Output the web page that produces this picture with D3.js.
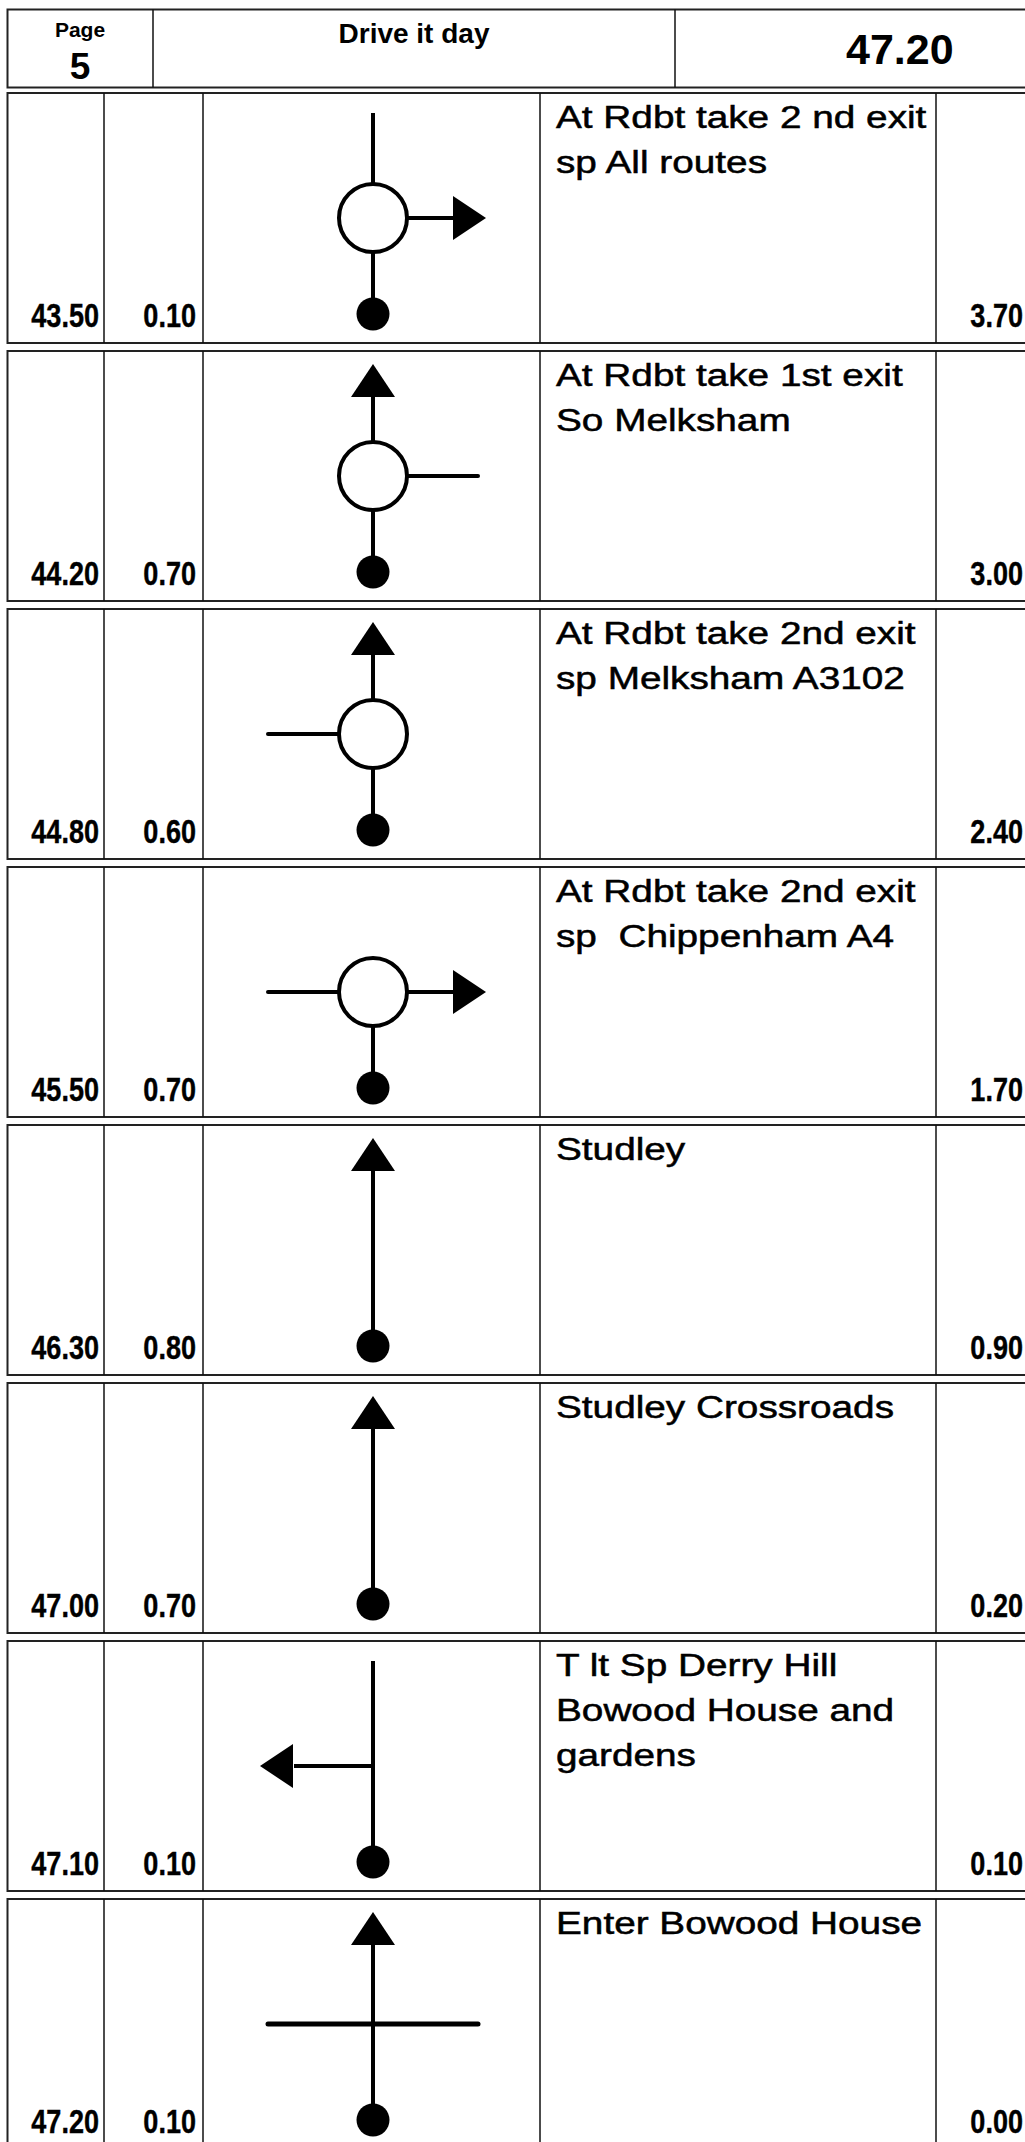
<!DOCTYPE html>
<html><head><meta charset="utf-8">
<script src="https://cdn.jsdelivr.net/npm/d3@7"></script>
<style>html,body{margin:0;padding:0;background:#fff;overflow:hidden}</style>
</head><body>
<svg id="c" width="1025" height="2142"></svg>
<script>
// ---- data ----
const pageNumber = "5";
const title = "Drive it day";
const totalDistance = "47.20";
const totals = ["43.50","44.20","44.80","45.50","46.30","47.00","47.10","47.20"];
const intervals = ["0.10","0.70","0.60","0.70","0.80","0.70","0.10","0.10"];
const remaining = ["3.70","3.00","2.40","1.70","0.90","0.20","0.10","0.00"];
const instructions = [
  ["At Rdbt take 2 nd exit","sp All routes"],
  ["At Rdbt take 1st exit","So Melksham"],
  ["At Rdbt take 2nd exit","sp Melksham A3102"],
  ["At Rdbt take 2nd exit","sp  Chippenham A4"],
  ["Studley"],
  ["Studley Crossroads"],
  ["T lt Sp Derry Hill","Bowood House and","gardens"],
  ["Enter Bowood House"]
];
const roundabout = [true,true,true,true,false,false,false,false];
const topEnd   = ["line","arrow","arrow","none","arrow","arrow","line","arrow"];
const leftEnd  = ["none","none","stub","stub","none","none","arrow","stub"];
const rightEnd = ["arrow","stub","none","arrow","none","none","none","stub"];

// ---- layout ----
const svg = d3.select("#c");
const rowTop = d3.scaleLinear().domain([0,1]).range([93,351]);
const rowH = 250;
const colX = [7.5, 104, 203, 540, 936, 1045];
const cx = 373;
const sw = 4;
const sans = "Liberation Sans, Arial, sans-serif";

// header
const hg = svg.append("g");
hg.append("rect").attr("x",7.5).attr("y",9.5).attr("width",1040).attr("height",78)
  .attr("fill","none").attr("stroke","#222").attr("stroke-width",2);
[153,675].forEach(x=>hg.append("line").attr("x1",x).attr("x2",x).attr("y1",9.5).attr("y2",87.5)
  .attr("stroke","#111").attr("stroke-width",1.5));
hg.append("text").attr("x",80).attr("y",37).attr("text-anchor","middle")
  .attr("font-family",sans).attr("font-weight","bold").attr("font-size",21).text("Page");
hg.append("text").attr("x",80).attr("y",79).attr("text-anchor","middle")
  .attr("font-family",sans).attr("font-weight","bold").attr("font-size",37).text(pageNumber);
hg.append("text").attr("x",414).attr("y",43).attr("text-anchor","middle")
  .attr("font-family",sans).attr("font-weight","bold").attr("font-size",28).text(title);
hg.append("text").attr("x",846).attr("y",64).attr("text-anchor","start")
  .attr("font-family",sans).attr("font-weight","bold").attr("font-size",43).text(totalDistance);

// rows
const rows = svg.selectAll("g.row").data(totals.map((t,i)=>i)).join("g")
  .attr("class","row").attr("transform",i=>`translate(0,${rowTop(i)})`);

rows.append("rect").attr("x",7.5).attr("y",0).attr("width",1040).attr("height",rowH)
  .attr("fill","#fff").attr("stroke","#222").attr("stroke-width",2);
colX.slice(1,5).forEach(x=>rows.append("line").attr("x1",x).attr("x2",x).attr("y1",0).attr("y2",rowH)
  .attr("stroke","#111").attr("stroke-width",1.5));

function numText(sel, x, fn){
  sel.append("text").attr("transform",`translate(${x},234) scale(0.82,1)`)
    .attr("text-anchor","end").attr("font-family",sans)
    .attr("font-weight","bold").attr("font-size",33)
    .attr("stroke","#000").attr("stroke-width",0.4).text(fn);
}
numText(rows, 99, i=>totals[i]);
numText(rows, 196, i=>intervals[i]);
numText(rows, 1023, i=>remaining[i]);

rows.each(function(i){
  const g = d3.select(this);
  const t = g.append("text").attr("transform","translate(556,0) scale(1.25,1)")
    .attr("font-family",sans).attr("font-size",31).style("white-space","pre")
    .attr("stroke","#000").attr("stroke-width",0.5);
  instructions[i].forEach((s,k)=>t.append("tspan").attr("x",0).attr("y",35+k*45).text(s));

  const cy = 125, dotY = 221, r = 34;
  const line = (x1,y1,x2,y2,w)=>g.append("line").attr("x1",x1).attr("y1",y1).attr("x2",x2).attr("y2",y2)
     .attr("stroke","#000").attr("stroke-width",w||sw);
  const tri = pts=>g.append("path").attr("d",d3.line()(pts)+"Z").attr("fill","#000");
  let topY = cy;
  if (topEnd[i]==="line") topY = 20;
  if (topEnd[i]==="arrow") { topY = 46; tri([[cx,13],[cx-22,46],[cx+22,46]]); }
  if (roundabout[i]) {
    if (topEnd[i]!=="none") line(cx,topY,cx,cy-r);
    line(cx,cy+r,cx,dotY);
  } else {
    line(cx,topY,cx,dotY);
  }
  const inner = roundabout[i] ? r : 0;
  if (rightEnd[i]==="arrow"){ line(cx+inner,cy,cx+81,cy); tri([[cx+80,cy-22],[cx+113,cy],[cx+80,cy+22]]); }
  if (rightEnd[i]==="stub"){ line(cx+inner,cy,cx+105,cy,roundabout[i]?sw:5).attr("stroke-linecap","round"); }
  if (leftEnd[i]==="arrow"){ line(cx-inner,cy,cx-79,cy); tri([[cx-80,cy-22],[cx-113,cy],[cx-80,cy+22]]); }
  if (leftEnd[i]==="stub"){ line(cx-inner,cy,cx-105,cy,roundabout[i]?sw:5).attr("stroke-linecap","round"); }
  if (roundabout[i]) g.append("circle").attr("cx",cx).attr("cy",cy).attr("r",r)
     .attr("fill","#fff").attr("stroke","#000").attr("stroke-width",sw);
  g.append("circle").attr("cx",cx).attr("cy",dotY).attr("r",16.5).attr("fill","#000");
});
</script>
</body></html>
